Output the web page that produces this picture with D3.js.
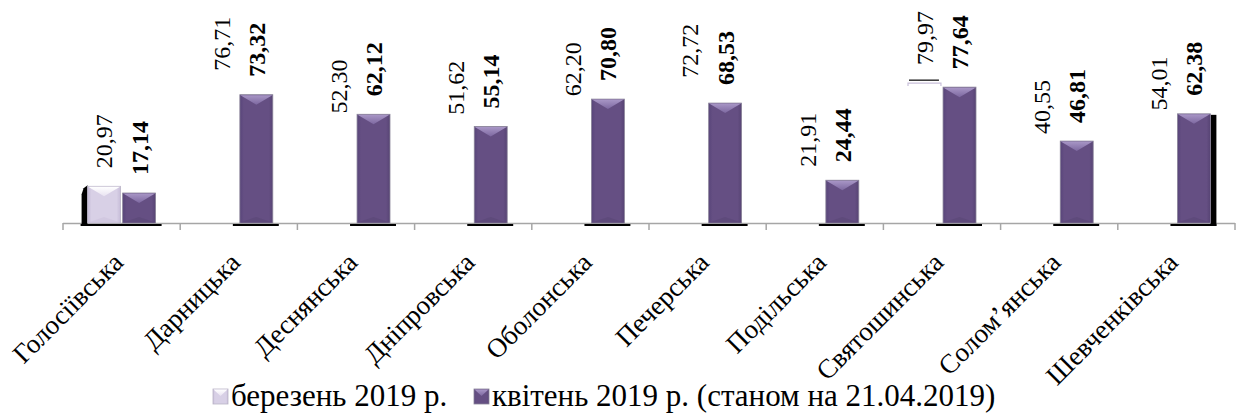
<!DOCTYPE html>
<html><head><meta charset="utf-8">
<script src="https://cdn.jsdelivr.net/npm/d3@7"></script>
<style>html,body{margin:0;padding:0;background:#fff;}svg{display:block;}</style>
</head><body>
<svg id="chart" width="1240" height="416"></svg>
<script>
const categories = ["Голосіївська","Дарницька","Деснянська","Дніпровська","Оболонська","Печерська","Подільська","Святошинська","Солом’янська","Шевченківська"];
const march = [20.97, 76.71, 52.30, 51.62, 62.20, 72.72, 21.91, 79.97, 40.55, 54.01];
const april = [17.14, 73.32, 62.12, 55.14, 70.80, 68.53, 24.44, 77.64, 46.81, 62.38];
const seriesNames = ["березень 2019 р.", "квітень 2019 р. (станом на 21.04.2019)"];

const svg = d3.select("#chart");
const FONT = "'Liberation Serif','Times New Roman',serif";
const axisY = 223;
const x = d3.scaleBand().domain(categories).range([63, 1235]).padding(0);
const xs = d3.scaleBand().domain([0,1]).range([-34, 34]).paddingInner(0.06);
const y = d3.scaleLinear().domain([0, 100]).range([axisY, 48]);

const defs = svg.append("defs");
function grad(id, stops, horiz){
  const g = defs.append("linearGradient").attr("id", id)
    .attr("x1",0).attr("y1",0).attr("x2", horiz?1:0).attr("y2", horiz?0:1);
  stops.forEach(s => g.append("stop").attr("offset", s[0]).attr("stop-color", s[1]));
}
grad("aprBody", [[0,"#58457a"],[0.12,"#654f83"],[0.88,"#654f83"],[1,"#574474"]], true);
grad("aprTop", [[0,"#a896c6"],[1,"#7d68a0"]], false);
grad("marBody", [[0,"#c6bcd8"],[0.12,"#d8d0e6"],[0.88,"#d8d0e6"],[1,"#c6bcd8"]], true);
grad("marTop", [[0,"#ffffff"],[1,"#e8e2f1"]], false);

const data = categories.map((c,i)=>({c, i, vals:[march[i], april[i]]}));
const g = svg.append("g");

// axis line and ticks
const ticks = x.domain().map(d => x(d)).concat([x.range()[1]]);
g.append("line").attr("x1",63).attr("x2",1235).attr("y1",axisY+0.5).attr("y2",axisY+0.5)
  .attr("stroke","#a6a6a6").attr("stroke-width",1.5);
g.selectAll("line.tick").data(ticks).join("line").attr("class","tick")
  .attr("x1",d=>d).attr("x2",d=>d).attr("y1",axisY).attr("y2",axisY+7)
  .attr("stroke","#a6a6a6").attr("stroke-width",1.5);

// bars
data.forEach(d => {
  const cx = x(d.c) + x.bandwidth()/2;
  d.vals.forEach((v, s) => {
    const bx = cx + xs(s), bw = xs.bandwidth();
    const by = y(v), bh = axisY - by;
    const visible = (s === 1) || d.i === 0;
    if (!visible) {
      if (d.i === 7) {
        g.append("rect").attr("x", bx+1).attr("y", by-3.5).attr("width", bw-3).attr("height", 1.2).attr("fill","#000");
        g.append("path").attr("d", `M${bx},${by+3} L${bx},${by} L${bx+bw},${by} L${bx+bw},${by+3}`)
          .attr("fill","none").attr("stroke","#c9c0da").attr("stroke-width",1.2);
      }
      return;
    }
    if (s === 1) {
      g.append("rect").attr("x", bx-7).attr("y", axisY+1).attr("width", bw+13).attr("height", 2).attr("fill","#000");
    }
    if (s === 0 && d.i === 0) {
      g.append("rect").attr("x", bx-7).attr("y", axisY+1).attr("width", bw+40).attr("height", 2).attr("fill","#000");
      g.append("path").attr("d", `M${bx},${by-1} L${bx-4},${by+2} L${bx-6},${by+8} L${bx-6},${axisY+2} L${bx},${axisY+2}Z`).attr("fill","#000");
    }
    if (s === 1 && d.i === categories.length-1) {
      g.append("rect").attr("x", bx+bw).attr("y", by+1).attr("width", 6).attr("height", axisY+2-by).attr("fill","#000");
    }
    g.append("rect").attr("x",bx).attr("y",by).attr("width",bw).attr("height",bh)
      .attr("fill", s ? "url(#aprBody)" : "url(#marBody)")
      .attr("stroke", s ? "#8a8499" : "#b9b3c6").attr("stroke-width",0.8);
    g.append("path").attr("d", `M${bx+0.5},${by+0.5} L${bx+bw-0.5},${by+0.5} L${bx+bw/2},${by+10} Z`)
      .attr("fill", s ? "url(#aprTop)" : "url(#marTop)");
    g.append("path").attr("d", `M${bx+0.5},${axisY-0.5} L${bx+bw-0.5},${axisY-0.5} L${bx+bw/2},${axisY-6} Z`)
      .attr("fill", s ? "#5c4879" : "#cfc6de").attr("opacity",0.8);
  });
});

// data labels
data.forEach(d => {
  const cx = x(d.c) + x.bandwidth()/2;
  d.vals.forEach((v, s) => {
    const bx = cx + xs(s) + xs.bandwidth()/2;
    const ty = y(v) - 18;
    g.append("text")
      .attr("transform", `translate(${bx},${ty}) rotate(-90)`)
      .attr("dy","0.35em")
      .attr("font-family", FONT).attr("font-size", 24)
      .attr("font-weight", s ? "bold" : "normal")
      .attr("fill","#000")
      .text(d3.format(".2f")(v).replace(".", ","));
  });
});

// category labels
g.selectAll("text.cat").data(categories).join("text").attr("class","cat")
  .attr("transform", d => `translate(${x(d)+x.bandwidth()/2+3},${axisY+41}) rotate(-45)`)
  .attr("text-anchor","end")
  .attr("font-family", FONT).attr("font-size", 27).attr("fill","#000")
  .text(d=>d);

// legend
const legend = svg.append("g");
const legX = [213, 474];
seriesNames.forEach((n, s) => {
  const lx = legX[s];
  legend.append("rect").attr("x",lx).attr("y",389).attr("width",15).attr("height",15)
    .attr("fill", s ? "url(#aprBody)" : "url(#marBody)").attr("stroke", s ? "#8a8499" : "#b9b3c6").attr("stroke-width",0.8);
  legend.append("path").attr("d", `M${lx+0.5},${389.5} L${lx+14.5},${389.5} L${lx+7.5},${396} Z`)
    .attr("fill", s ? "url(#aprTop)" : "url(#marTop)");
  legend.append("text").attr("x", lx+18).attr("y", 406)
    .attr("font-family", FONT).attr("font-size", 31).attr("fill","#000").text(n);
});
</script>
</body></html>
